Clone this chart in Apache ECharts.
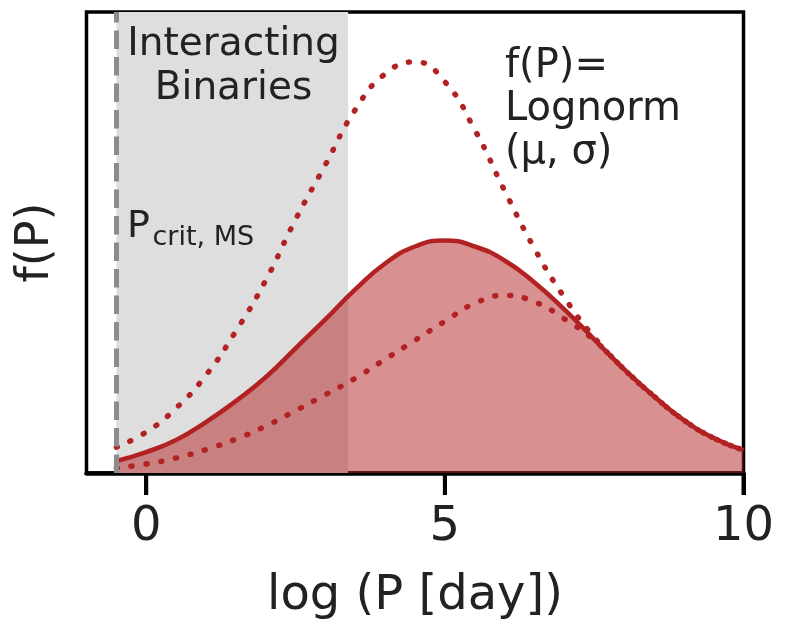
<!DOCTYPE html>
<html>
<head>
<meta charset="utf-8">
<title>f(P) — orbital period distribution</title>
<script src="https://cdn.jsdelivr.net/npm/echarts@6/dist/echarts.min.js"></script>
<style>
  html, body { margin: 0; padding: 0; background: #fff; }
  #chart { width: 789px; height: 626px; }
</style>
</head>
<body>
<div id="chart"></div>
<script>
// log(P / day) sample positions shared by all three curves
const logP = [-0.5, 0, 0.5, 1, 1.5, 2, 2.5, 3, 3.5, 4, 4.5, 5, 5.5, 6, 6.5, 7, 7.5, 8, 8.5, 9, 9.5, 10];

// fiducial distribution (solid, filled)
const fFiducial = [12, 21, 33, 51, 72, 96, 125, 154, 184, 210, 227, 233, 227, 213, 191, 164, 134, 104, 77, 53, 35, 23];
// narrower, shorter-period alternative (dotted, tall)
const fNarrow = [26, 41, 65, 98, 142, 193, 254, 309, 364, 400, 412, 392, 344, 283, 225, 176, 136, 104, 77, 53, 35, 23];
// wider, longer-period alternative (dotted, low)
const fWide = [5, 9, 15, 23.5, 34, 47, 62.5, 78.5, 95, 114, 133, 152, 170, 178, 171.5, 154.5, 133, 104, 77, 53, 35, 23];

// x-axis tick positions
const xTicks = [0, 5, 10];

// critical period on the main sequence and the edge of the interacting-binary region
const pCritMS = -0.5;
const interactEdge = 3.38;

const pairs = ys => logP.map((x, i) => [x, ys[i]]);

const FONT = '"DejaVu Sans", "Liberation Sans", sans-serif';
const RED = '#b22222';
const TICK_LEN = 22;

const chart = echarts.init(document.getElementById('chart'), null, { renderer: 'canvas' });

chart.setOption({
  animation: false,
  backgroundColor: '#fff',
  grid: {
    left: 86.5, right: 45.5, top: 12, bottom: 152,
    show: true, borderColor: '#000', borderWidth: 3.5, backgroundColor: 'transparent',
    containLabel: false
  },
  xAxis: {
    type: 'value',
    min: -1, max: 10,
    name: 'log (P [day])',
    nameLocation: 'middle',
    nameGap: 100,
    nameTextStyle: { fontFamily: FONT, fontSize: 48, color: '#222' },
    axisLine: { show: true, onZero: false, lineStyle: { color: '#000', width: 4.5 } },
    axisTick: {
      show: true, inside: false, length: TICK_LEN,
      lineStyle: { color: '#000', width: 4 },
      customValues: xTicks
    },
    axisLabel: { show: true, fontFamily: FONT, fontSize: 48, color: '#222', margin: 30.5, customValues: xTicks },
    splitLine: { show: false }
  },
  yAxis: {
    type: 'value',
    min: 0, max: 462,
    name: 'f(P)',
    nameLocation: 'middle',
    nameGap: 27.5,
    nameTextStyle: { fontFamily: FONT, fontSize: 46, color: '#222' },
    axisLine: { show: false },
    axisTick: { show: false },
    axisLabel: { show: false },
    splitLine: { show: false }
  },
  series: [
    {
      // shaded interacting-binary band
      type: 'line',
      data: [],
      z: 1,
      silent: true,
      markArea: {
        silent: true,
        itemStyle: { color: '#dedede' },
        label: { show: false },
        data: [[{ xAxis: pCritMS }, { xAxis: interactEdge }]]
      }
    },
    {
      name: 'narrow',
      type: 'line',
      data: pairs(fNarrow),
      smooth: true,
      showSymbol: false,
      z: 3,
      lineStyle: { color: RED, width: 5.5, type: [1, 14], cap: 'round' }
    },
    {
      name: 'wide',
      type: 'line',
      data: pairs(fWide),
      smooth: true,
      showSymbol: false,
      z: 3,
      lineStyle: { color: RED, width: 5.5, type: [1, 14], cap: 'round' }
    },
    {
      name: 'fiducial',
      type: 'line',
      data: pairs(fFiducial),
      smooth: true,
      showSymbol: false,
      z: 4,
      lineStyle: { color: RED, width: 4.5 },
      areaStyle: { color: RED, opacity: 0.5 },
      markLine: {
        silent: true,
        symbol: 'none',
        label: { show: false },
        lineStyle: { color: '#8c8c8c', width: 5, type: [18.5, 8], cap: 'butt', opacity: 1 },
        data: [{ xAxis: pCritMS }]
      }
    },
    {
      // outward major ticks on the bottom axis, placed through the x scale
      type: 'custom',
      silent: true,
      clip: false,
      z: 6,
      data: xTicks.map(v => [v, 0]),
      encode: { x: 0, y: 1 },
      renderItem: (params, api) => {
        const p = api.coord([api.value(0), 0]);
        return {
          type: 'line',
          shape: { x1: p[0], y1: p[1], x2: p[0], y2: p[1] + TICK_LEN },
          style: { stroke: '#000', lineWidth: 4 }
        };
      }
    }
  ],
  graphic: [
    {
      type: 'text', x: 233.5, y: 22.5, z: 10,
      style: {
        text: 'Interacting\nBinaries', fill: '#222', fontFamily: FONT, fontSize: 39,
        lineHeight: 44, align: 'center', verticalAlign: 'top'
      }
    },
    {
      type: 'text', x: 127, y: 208, z: 10,
      style: { text: 'P', fill: '#222', fontFamily: FONT, fontSize: 38, lineHeight: 38, align: 'left', verticalAlign: 'top' }
    },
    {
      type: 'text', x: 152.5, y: 224, z: 10,
      style: { text: 'crit, MS', fill: '#222', fontFamily: FONT, fontSize: 27, lineHeight: 27, align: 'left', verticalAlign: 'top' }
    },
    {
      type: 'text', x: 505, y: 45, z: 10,
      style: {
        text: 'f(P)=\nLognorm\n(μ, σ)', fill: '#222', fontFamily: FONT, fontSize: 40,
        lineHeight: 43, align: 'left', verticalAlign: 'top'
      }
    }
  ]
});
</script>
</body>
</html>
